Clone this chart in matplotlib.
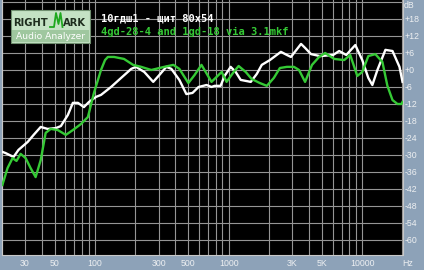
import numpy as np
import matplotlib
matplotlib.use('Agg')
import matplotlib.pyplot as plt
from matplotlib.patches import Rectangle
from matplotlib.lines import Line2D

# frequency response (Hz, dB)
white_freq = [20.3, 21.4, 24.6, 26.8, 31.4, 34.8, 39.3, 44.3, 51.0, 55.6, 62.7, 68.4, 74.6, 82.7,
              90.2, 101.8, 111, 132, 157, 187, 203, 234, 273, 303, 342, 373, 428, 483, 537, 596,
              684, 745, 785, 871, 933, 1036, 1130, 1231, 1465, 1625, 1771, 2036, 2462, 2730, 2926,
              3483, 3735, 4138, 4832, 6055, 6717, 7590, 8870, 10000, 11100, 11900, 12980, 14900,
              16830, 18990, 20000]
white_db = [-28.9, -29.3, -30.7, -28.2, -25.4, -22.9, -20.1, -20.8, -20.5, -19.8, -15.9, -11.6, -11.6, -13.1,
            -11.3, -9.5, -8.8, -6.0, -2.8, 0.4, 1.1, -0.7, -4.2, -1.8, 1.1, 0.4, -3.5, -8.5, -8.1, -6.0,
            -5.3, -6.0, -5.6, -5.6, -2.1, 1.1, -0.7, -3.5, -4.2, -1.4, 1.8, 3.5, 6.4, 5.3, 4.6,
            9.2, 7.8, 5.6, 4.9, 5.3, 6.7, 5.3, 8.8, 3.5, -2.8, -5.3, 0.0, 7.1,
            6.7, 1.1, -4.2]

green_freq = [20.3, 22.2, 24.2, 25.9, 27.8, 30.3, 33.0, 36.0, 39.3, 42.8, 46.7, 52.7, 60.6, 68.4, 78.5,
              88.6, 98.3, 111, 119, 125, 139, 165, 193, 222, 264, 330, 386, 428, 500, 556, 627, 745,
              887, 966, 1092, 1189, 1343, 1490, 1711, 1932, 2181, 2420, 2730, 3083, 3364, 3735, 4208,
              4753, 5274, 6164, 7328, 8126, 9178, 10000, 11100, 12530, 14150, 15420, 16830, 18340,
              19650, 20000]
green_db = [-40.6, -34.6, -31.1, -32.1, -29.6, -31.1, -34.6, -37.8, -31.8, -22.2, -20.8, -21.2, -22.9, -21.2, -19.1,
            -16.6, -8.1, 0.0, 3.5, 4.6, 4.6, 3.9, 1.8, 1.1, 0.0, 1.1, 1.8, 0.4, -4.6, -1.8, 1.8, -4.2,
            -0.7, -4.2, -0.7, 1.4, -0.7, -3.2, -4.6, -5.6, -2.8, 0.7, 1.1, 1.1, 0.0, -4.2, 1.8,
            4.6, 6.0, 3.9, 3.5, 5.3, -2.1, -0.7, 4.9, 5.6, 2.8, -5.6, -10.6, -12.0,
            -12.0, -11.3]

db_ticks = list(range(-60, 25, 6))
grid_freqs = [20, 30, 40, 50, 60, 70, 80, 90, 100, 200, 300, 400, 500, 600, 700, 800, 900,
              1000, 2000, 3000, 4000, 5000, 6000, 7000, 8000, 9000, 10000, 20000]
freq_labels = {30: '30', 50: '50', 100: '100', 300: '300', 500: '500',
               1000: '1000', 3000: '3K', 5000: '5K', 10000: '10000'}

W, H = 424, 270
bg = '#8da2b8'
green = '#35c935'
label_color = '#eef0f2'

fig = plt.figure(figsize=(W / 100, H / 100), dpi=100, facecolor=bg)
ax = fig.add_axes([1.5 / W, 15 / H, 401 / W, 255 / H])
ax.set_facecolor('black')

ax.set_xscale('log')
ax.set_xlim(20, 20000)
ax.set_ylim(-65.3, 24.7)

for f in grid_freqs:
    ax.axvline(f, color='#959595', lw=0.8, zorder=1)
for d in db_ticks:
    ax.axhline(d, color='#959595', lw=0.8, zorder=1)

ax.plot(white_freq, white_db, color='white', lw=1.7, zorder=3)
ax.plot(green_freq, green_db, color=green, lw=1.7, zorder=4)

# ticks
ax.set_xticks(grid_freqs)
ax.set_xticklabels([freq_labels.get(f, '') for f in grid_freqs])
ax.xaxis.set_minor_locator(matplotlib.ticker.NullLocator())
ax.yaxis.tick_right()
ax.set_yticks([d for d in db_ticks if d <= 18])
ax.set_yticklabels([('+%d' % d) if d >= 0 else str(d) for d in db_ticks if d <= 18])
ax.tick_params(axis='both', length=0, colors=label_color, labelsize=6.3)
ax.tick_params(axis='x', pad=3)
ax.tick_params(axis='y', pad=1.5)
for lab in ax.get_xticklabels() + ax.get_yticklabels():
    lab.set_family('Liberation Sans')

ax.spines['top'].set_visible(False)
for s in ['left', 'bottom', 'right']:
    ax.spines[s].set_color('#c8c8c8')
    ax.spines[s].set_linewidth(0.8)

fig.text(404 / W, 1 - 6 / H, 'dB', color=label_color, fontsize=6.3, family='Liberation Sans',
         ha='left', va='center')
fig.text(402 / W, 1 - 263 / H, 'Hz', color=label_color, fontsize=6.3, family='Liberation Sans',
         ha='left', va='center')

# titles
fig.text(101 / W, 1 - 18 / H, '10гдш1 - щит 80x54', color='white', fontsize=7.5,
         family='DejaVu Sans Mono', fontweight='bold', ha='left', va='center')
fig.text(101 / W, 1 - 32 / H, '4gd-28-4 and 1gd-18 via 3.1mkf', color=green, fontsize=7.5,
         family='DejaVu Sans Mono', fontweight='bold', ha='left', va='center')

# RightMark logo
def px(x, y):
    return x / W, 1 - y / H

fig.patches.append(Rectangle(px(11, 43), 79 / W, 33 / H, transform=fig.transFigure,
                             facecolor='#c4e2c4', edgecolor='#6f8f6f', lw=0.8, zorder=5))
fig.patches.append(Rectangle(px(12, 42), 77 / W, 12 / H, transform=fig.transFigure,
                             facecolor='#9fc79f', edgecolor='none', zorder=6))
fig.text(*px(13, 22.5), 'RIGHT', color='#1e2e1e', fontsize=7.2, fontweight='bold',
         family='DejaVu Sans', ha='left', va='center', zorder=7)
fig.text(*px(62.5, 22.5), 'ARK', color='#1e2e1e', fontsize=7.2, fontweight='bold',
         family='DejaVu Sans', ha='left', va='center', zorder=7)
mx = [50, 54, 56, 58.5, 60.5, 62.5]
my = [27, 27, 13, 24, 13, 27]
fig.lines.append(Line2D([x / W for x in mx], [1 - y / H for y in my], transform=fig.transFigure,
                        color='#1fa81f', lw=1.3, zorder=7))
fig.text(*px(50.5, 36.5), 'Audio Analyzer', color='white', fontsize=6.6,
         family='DejaVu Sans', ha='center', va='center', zorder=7)

fig.savefig('out.png', dpi=100, facecolor=bg)
